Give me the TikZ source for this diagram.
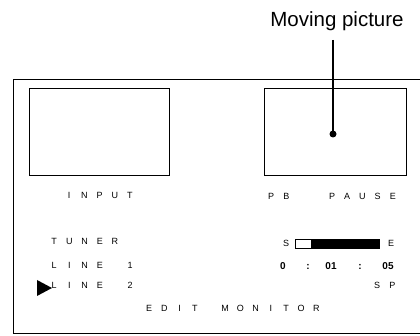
\documentclass[tikz,border=0pt]{standalone}
\usepackage{fontspec}
\setmainfont{Liberation Sans}
\newlength\pitch
\setlength\pitch{15.2pt}
\def\mono#1{\monoA#1\relax}
\def\monoA#1{\ifx#1\relax\else\makebox[\pitch][c]{#1}\expandafter\monoA\fi}
\begin{document}
\begin{tikzpicture}[x=1pt,y=-1pt,
  frame/.style={draw=black,line width=0.9pt},
  screen/.style={draw=black,line width=0.7pt},
  lbl/.style={inner sep=0pt,anchor=base west,font=\fontsize{9}{10}\selectfont},
  glyph/.style={inner sep=0pt,anchor=base,font=\fontsize{9}{10}\selectfont},
  num/.style={inner sep=0pt,anchor=base,font=\fontsize{10}{11}\selectfont\bfseries}]
\useasboundingbox (0,0) rectangle (420,336);
\begin{scope}
\clip (0,0) rectangle (420,336);
\draw[frame] (13,79) rectangle (428,333);
\end{scope}
\node[screen,minimum width=140pt,minimum height=87pt,inner sep=0pt,anchor=north west] (inbox) at (29,88) {};
\node[screen,minimum width=142pt,minimum height=87pt,inner sep=0pt,anchor=north west] (pbbox) at (264,88) {};
% caption and leader
\node[inner sep=0pt,anchor=base,font=\fontsize{20.5}{24}\selectfont] (mp) at (337,27) {Moving picture};
\coordinate (lt) at (333,40);
\node[circle,fill=black,inner sep=0pt,minimum size=7pt] (dot) at (333,134) {};
\draw[line width=1.5pt] (lt) -- (dot.center);
% left labels
\node[lbl] (input) at (61.4,199) {\mono{INPUT}};
\node[lbl] (tuner) at (46.4,245) {\mono{TUNER}};
\node[lbl] (line1) at (46.4,269) {\mono{LINE~1}};
\node[lbl] (line2) at (46.4,289) {\mono{LINE~2}};
\fill[black] (37,280) -- (52,288) -- (37,296) -- cycle;
\node[lbl] (edit) at (141.4,312) {\mono{EDIT~MONITOR}};
% right labels
\node[lbl] (pb) at (263.4,200) {\mono{PB~~PAUSE}};
\node[glyph] (s) at (286,247) {S};
\node[glyph] (e) at (391,247) {E};
\node[draw=black,line width=0.6pt,minimum width=84pt,minimum height=9pt,inner sep=0pt,anchor=north west] (bar) at (295,239) {};
\fill[black] (311,239) rectangle (379,248);
\node[num] (t0) at (283,270) {0};
\node[num] (c1) at (308,270) {:};
\node[num] (t1) at (331,270) {01};
\node[num] (c2) at (360,270) {:};
\node[num] (t2) at (388,270) {05};
\node[lbl] (sp) at (369.4,289) {\mono{SP}};
\end{tikzpicture}
\end{document}
